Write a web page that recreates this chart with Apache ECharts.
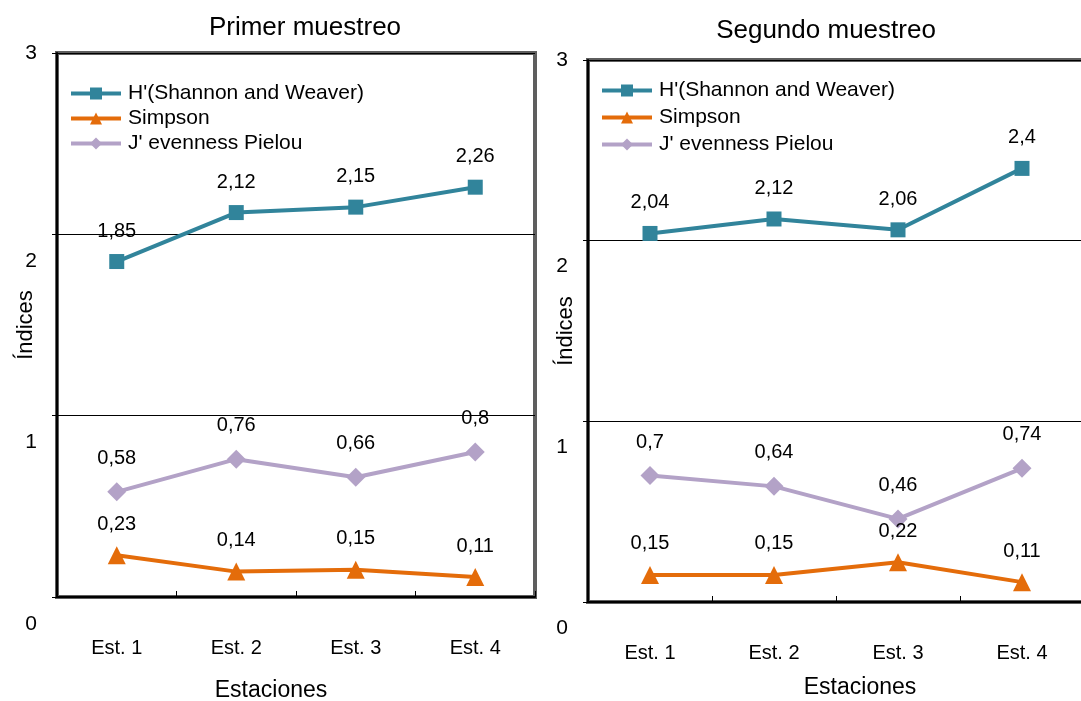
<!DOCTYPE html>
<html>
<head>
<meta charset="utf-8">
<script src="https://cdn.jsdelivr.net/npm/echarts@6/dist/echarts.min.js"></script>
<style>
  html, body { margin: 0; padding: 0; background: #fff; }
  #chart { width: 1081px; height: 701px; }
</style>
</head>
<body>
<div id="chart"></div>
<script>
// Diversity indices per station, two sampling campaigns
const categories = ['Est. 1', 'Est. 2', 'Est. 3', 'Est. 4'];
const seriesNames = ["H'(Shannon and Weaver)", 'Simpson', "J' evenness Pielou"];
const panelTitles = ['Primer muestreo', 'Segundo muestreo'];
const xAxisTitle = 'Estaciones';
const yAxisTitle = 'Índices';

const shannon1 = [1.85, 2.12, 2.15, 2.26];
const simpson1 = [0.23, 0.14, 0.15, 0.11];
const pielou1  = [0.58, 0.76, 0.66, 0.8];

const shannon2 = [2.04, 2.12, 2.06, 2.4];
const simpson2 = [0.15, 0.15, 0.22, 0.11];
const pielou2  = [0.7, 0.64, 0.46, 0.74];

const yMin = 0, yMax = 3, yStep = 1;

const FONT = 'Liberation Sans, Arial, sans-serif';
const COLORS = ['#31849B', '#E46C0A', '#B3A2C7'];
const SYMBOLS = ['rect', 'triangle', 'diamond'];
const SYMBOL_SIZES = [15, 18, 19];
const LABEL_DIST = [13, 12, 14];

const comma = v => String(v).replace('.', ',');

const chart = echarts.init(document.getElementById('chart'), null, { renderer: 'canvas' });

function makeSeries(values, idx, axisIdx) {
  return {
    name: seriesNames[idx],
    type: 'line',
    xAxisIndex: axisIdx,
    yAxisIndex: axisIdx,
    data: values,
    symbol: SYMBOLS[idx],
    symbolSize: SYMBOL_SIZES[idx],
    color: COLORS[idx],
    lineStyle: { width: 4, color: COLORS[idx] },
    itemStyle: { color: COLORS[idx] },
    label: {
      show: true,
      position: 'top',
      distance: LABEL_DIST[idx],
      formatter: p => comma(p.value),
      fontFamily: FONT,
      fontSize: 20,
      color: '#000'
    },
    emphasis: { disabled: true },
    animation: false,
    z: 3
  };
}

function makeXAxis(gridIdx, nameGap, namePad) {
  return {
    type: 'category',
    gridIndex: gridIdx,
    data: categories,
    boundaryGap: true,
    axisLine: { show: true, lineStyle: { color: '#000', width: 2 } },
    axisTick: { show: true, inside: true, length: 6, lineStyle: { color: '#000', width: 1 } },
    axisLabel: { margin: 41, fontFamily: FONT, fontSize: 20, color: '#000' },
    splitLine: { show: false },
    name: xAxisTitle,
    nameLocation: 'middle',
    nameGap: nameGap,
    nameMoveOverlap: false,
    nameTextStyle: { fontFamily: FONT, fontSize: 23, color: '#000', padding: namePad }
  };
}

function makeYAxis(gridIdx, nameGap, shift) {
  return {
    type: 'value',
    gridIndex: gridIdx,
    min: yMin,
    max: yMax,
    interval: yStep,
    axisLine: { show: true, lineStyle: { color: '#000', width: 2 } },
    axisTick: { show: true, inside: false, length: 5, lineStyle: { color: '#000', width: 1 } },
    axisLabel: {
      margin: 20,
      formatter: v => (v === yMax ? '{top|' + v + '}' : '{low|' + v + '}'),
      rich: {
        top: { fontFamily: FONT, fontSize: 21, color: '#000' },
        low: { fontFamily: FONT, fontSize: 21, color: '#000', padding: [shift, 0, 0, 0] }
      }
    },
    splitLine: { show: true, lineStyle: { color: '#000', width: 1 } },
    name: yAxisTitle,
    nameLocation: 'middle',
    nameGap: nameGap,
    nameMoveOverlap: false,
    nameTextStyle: { fontFamily: FONT, fontSize: 22, color: '#000' }
  };
}

function makeLegend(left, top, gap) {
  return {
    orient: 'vertical',
    left: left,
    top: top,
    itemWidth: 50,
    itemHeight: 15,
    itemGap: gap,
    data: seriesNames,
    selectedMode: false,
    lineStyle: { width: 4 },
    textStyle: { fontFamily: FONT, fontSize: 21, color: '#000', padding: [0, 0, 0, 2] }
  };
}

const option = {
  backgroundColor: '#fff',
  animation: false,
  title: [
    { text: panelTitles[0], left: 300, top: 10, textAlign: 'center',
      textStyle: { fontFamily: FONT, fontSize: 26, fontWeight: 'normal', color: '#000' } },
    { text: panelTitles[1], left: 821, top: 13, textAlign: 'center',
      textStyle: { fontFamily: FONT, fontSize: 26, fontWeight: 'normal', color: '#000' } }
  ],
  legend: [makeLegend(64, 78, 4), makeLegend(595, 75, 6)],
  grid: [
    { left: 57, top: 53, width: 478, height: 544, show: true, outerBoundsMode: 'none',
      borderColor: '#5e5e5e', borderWidth: 4, backgroundColor: '#fff', containLabel: false },
    { left: 588, top: 60, width: 496, height: 542, show: true, outerBoundsMode: 'none',
      borderColor: '#5e5e5e', borderWidth: 4, backgroundColor: '#fff', containLabel: false }
  ],
  xAxis: [makeXAxis(0, 82, [0, 50, 0, 0]), makeXAxis(1, 74, [0, 0, 0, 48])],
  yAxis: [makeYAxis(0, 20, 54), makeYAxis(1, 11, 52)],
  series: [
    makeSeries(shannon1, 0, 0),
    makeSeries(simpson1, 1, 0),
    makeSeries(pielou1, 2, 0),
    makeSeries(shannon2, 0, 1),
    makeSeries(simpson2, 1, 1),
    makeSeries(pielou2, 2, 1)
  ]
};

chart.setOption(option);
</script>
</body>
</html>
